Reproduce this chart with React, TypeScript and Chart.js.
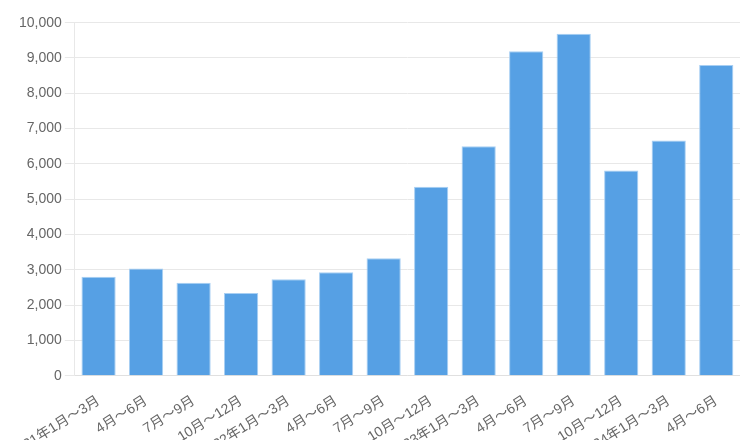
import React, { useEffect, useRef } from "react";
import { Chart, registerables } from "chart.js";

Chart.register(...registerables);

const categories: string[] = [
  "2021年1月〜3月", "4月〜6月", "7月〜9月", "10月〜12月",
  "2022年1月〜3月", "4月〜6月", "7月〜9月", "10月〜12月",
  "2023年1月〜3月", "4月〜6月", "7月〜9月", "10月〜12月",
  "2024年1月〜3月", "4月〜6月",
];
const values: number[] = [2800, 3040, 2630, 2340, 2730, 2930, 3330, 5350, 6500, 9190, 9690, 5810, 6660, 8800];
const yMax = 10000;
const yStep = 1000;

export default function App() {
  const ref = useRef<HTMLCanvasElement | null>(null);
  useEffect(() => {
    if (!ref.current) return;
    const chart = new Chart(ref.current, {
      type: "bar",
      data: {
        labels: categories,
        datasets: [
          {
            data: values,
            backgroundColor: "#56a0e4",
            borderColor: "#a8cff3",
            borderWidth: 1,
          },
        ],
      },
      options: {
        animation: false,
        responsive: false,
        maintainAspectRatio: false,
        layout: { padding: { left: 16, top: 22.7, right: 0, bottom: 0 } },
        plugins: { legend: { display: false }, tooltip: { enabled: false } },
        scales: {
          x: {
            grid: { display: false },
            border: { color: "#e0e0e0" },
            ticks: {
              autoSkip: false,
              minRotation: 32,
              maxRotation: 32,
              padding: 9,
              color: "#666",
              font: { size: 14, family: "'Liberation Sans', Arial, 'Noto Sans CJK JP', sans-serif" },
            },
            afterFit: (scale: any) => {
              scale.paddingLeft = 0;
              scale.paddingRight = 0;
              scale.height = 64.3;
            },
          },
          y: {
            min: 0,
            max: yMax,
            grid: { color: "#e8e8e8", tickLength: 10 },
            border: { color: "#e8e8e8" },
            ticks: {
              stepSize: yStep,
              color: "#666",
              padding: 3,
              font: { size: 14, family: "'Liberation Sans', Arial, sans-serif" },
              callback: (v: any) => Number(v).toLocaleString("en-US"),
            },
          },
        },
      },
    });
    return () => chart.destroy();
  }, []);
  return (
    <div style={{ position: "fixed", left: 0, top: 0, width: 740, height: 440, background: "#fff" }}>
      <canvas ref={ref} width={740} height={440} style={{ width: 740, height: 440 }} />
    </div>
  );
}
